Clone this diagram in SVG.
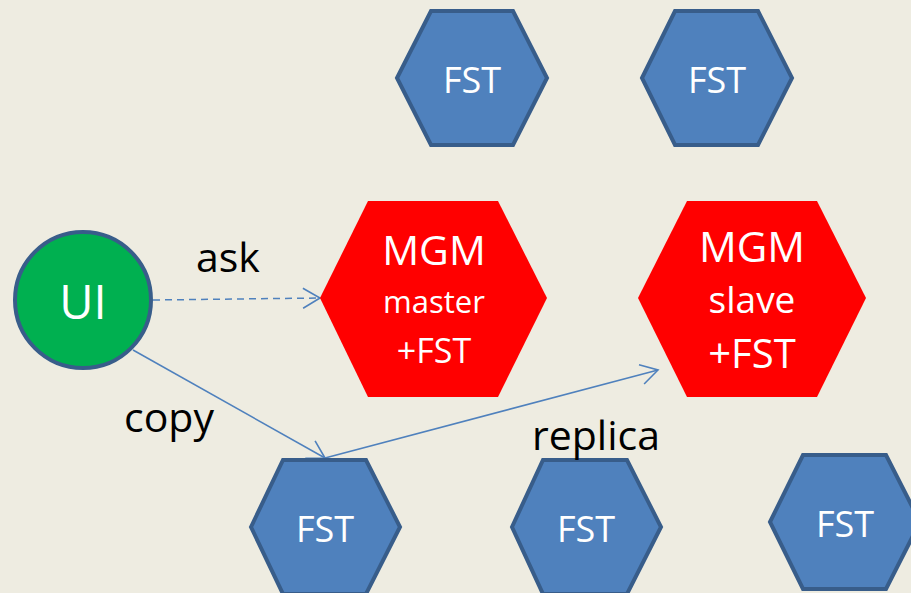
<svg xmlns="http://www.w3.org/2000/svg" width="911" height="593" viewBox="0 0 911 593">
<defs>
<style>
.fst{fill:#4f81bd;stroke:#385d8a;stroke-width:4;stroke-linejoin:miter}
.mgm{fill:#ff0000}
.t{font-family:"Open Sans","Noto Sans",sans-serif;fill:#ffffff;text-anchor:middle}
.lbl{font-family:"Open Sans","Noto Sans",sans-serif;fill:#000000;font-size:41px}
.edge{fill:none;stroke:#4f81bd;stroke-width:1.5}
</style>
<marker id="arr" markerUnits="userSpaceOnUse" viewBox="0 0 20 24" refX="18" refY="12" markerWidth="20" markerHeight="24" orient="auto">
<path d="M1,2 L18,12 L1,22" fill="none" stroke="#4f81bd" stroke-width="1.6"/>
</marker>
</defs>
<rect width="911" height="593" fill="#eeece1"/>
<g id="connectors">
<path class="edge" d="M153,300 L320,298" stroke-dasharray="7,5" marker-end="url(#arr)"/>
<path class="edge" d="M133,350 L325,458" marker-end="url(#arr)"/>
<path class="edge" d="M325,458 L658,370" marker-end="url(#arr)"/>
</g>
<g id="fst-top-1">
<polygon class="fst" points="397,78 431,11 513,11 547,78 513,145 431,145"/>
<text class="t" x="472" y="93" font-size="36">FST</text>
</g>
<g id="fst-top-2">
<polygon class="fst" points="642,78 675,11 758,11 792,78 758,145 675,145"/>
<text class="t" x="717" y="93" font-size="36">FST</text>
</g>
<g id="mgm-master">
<polygon class="mgm" points="320,298 368,201 498,201 547,298 498,397 368,397"/>
<text class="t" x="434" y="265" font-size="41">MGM</text>
<text class="t" x="434" y="313" font-size="31">master</text>
<text class="t" x="434" y="363" font-size="34">+FST</text>
</g>
<g id="mgm-slave">
<polygon class="mgm" points="638,298 687,201 817,201 866,298 817,397 687,397"/>
<text class="t" x="752" y="262" font-size="42">MGM</text>
<text class="t" x="752" y="313" font-size="37">slave</text>
<text class="t" x="752" y="368" font-size="40">+FST</text>
</g>
<g id="ui">
<circle cx="83" cy="300" r="68" fill="#00b050" stroke="#385d8a" stroke-width="4"/>
<text class="t" x="83" y="319" font-size="47">UI</text>
</g>
<g id="fst-bottom-1">
<polygon class="fst" points="251,527 283,460 366,460 400,527 366,594 283,594"/>
<text class="t" x="325" y="542" font-size="36">FST</text>
</g>
<g id="fst-bottom-2">
<polygon class="fst" points="512,527 543,460 627,460 661,527 627,594 543,594"/>
<text class="t" x="586" y="542" font-size="36">FST</text>
</g>
<g id="fst-bottom-3">
<polygon class="fst" points="770,522 803,455 886,455 920,522 886,589 803,589"/>
<text class="t" x="845" y="537" font-size="36">FST</text>
</g>
<g id="labels">
<text class="lbl" x="196" y="272">ask</text>
<text class="lbl" x="124" y="432">copy</text>
<text class="lbl" x="532" y="450">replica</text>
</g>
</svg>
